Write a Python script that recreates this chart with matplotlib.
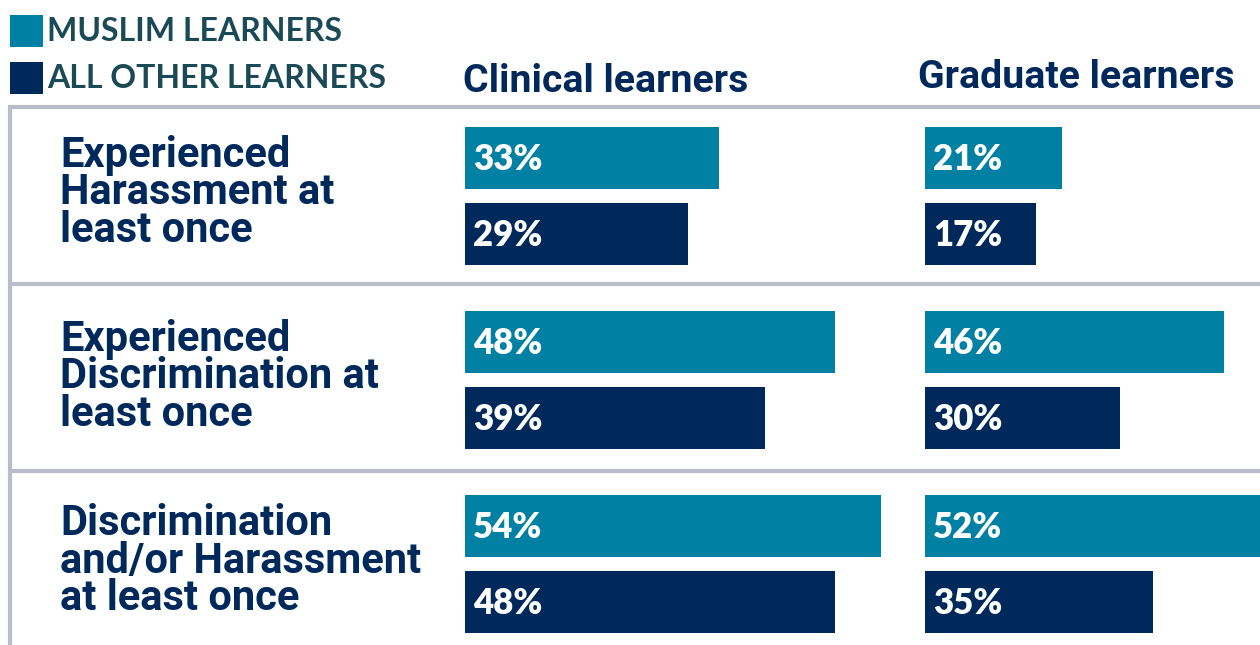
import matplotlib.pyplot as plt
from matplotlib.patches import Rectangle

# data
categories = [
    "Experienced\nHarassment at\nleast once",
    "Experienced\nDiscrimination at\nleast once",
    "Discrimination\nand/or Harassment\nat least once",
]
legend_labels = ["MUSLIM LEARNERS", "ALL OTHER LEARNERS"]
panel_titles = ["Clinical learners", "Graduate learners"]
clinical_muslim = [33, 48, 54]
clinical_other = [29, 39, 48]
graduate_muslim = [21, 46, 52]
graduate_other = [17, 30, 35]

TEAL = "#0081a4"
NAVY = "#00295b"
GRAY = "#b9bdc9"
LEGEND_TXT = "#1b4a57"

HEAD = ["Roboto", "DejaVu Sans"]
GEO = ["Lato", "DejaVu Sans"]

W, H = 1260, 645
fig = plt.figure(figsize=(W / 100, H / 100), dpi=100)

# layout axes in pixel units
base = fig.add_axes([0, 0, 1, 1])
base.set_xlim(0, W)
base.set_ylim(H, 0)
base.axis("off")

row_center = [196 + 184 * i for i in range(len(categories))]
bar_off = 38
bar_h = 62

# legend
for i, (lab, col) in enumerate(zip(legend_labels, [TEAL, NAVY])):
    y0 = 15 + 47 * i
    base.add_patch(Rectangle((10, y0), 33, 32, color=col, lw=0))
    base.text(47, y0 + 26, lab, color=LEGEND_TXT, fontsize=23,
              fontweight="bold", family=GEO, va="baseline", ha="left")

# grid lines
base.plot([8, W], [107, 107], color=GRAY, lw=3, solid_capstyle="butt")
for y in [284, 471]:
    base.plot([10, W], [y, y], color=GRAY, lw=3, solid_capstyle="butt")
base.plot([10, 10], [107, H], color=GRAY, lw=3, solid_capstyle="butt")

# row labels
for lab, yc in zip(categories, row_center):
    base.text(60, yc - 3, lab, color=NAVY, fontsize=30, fontweight="bold",
              family=HEAD, va="center", ha="left", linespacing=0.88)


def panel(x0, x1, px_per_pt, title, title_x, title_y, muslim, other):
    ax = fig.add_axes([x0 / W, 0, (x1 - x0) / W, 1])
    ax.set_xlim(0, (x1 - x0) / px_per_pt)
    ax.set_ylim(H, 0)
    ax.axis("off")
    ax.patch.set_alpha(0)
    base.text(title_x, title_y, title, color=NAVY, fontsize=28.3,
              fontweight="bold", family=HEAD, va="baseline", ha="left")
    ym = [c - bar_off for c in row_center]
    yo = [c + bar_off for c in row_center]
    ax.barh(ym, muslim, height=bar_h, color=TEAL, lw=0)
    ax.barh(yo, other, height=bar_h, color=NAVY, lw=0)
    for ys, vals in [(ym, muslim), (yo, other)]:
        for y, v in zip(ys, vals):
            ax.annotate(f"{v}%", (0, y), xytext=(6, -1),
                        textcoords="offset points", color="white",
                        fontsize=25, fontweight="heavy", family=GEO,
                        va="center", ha="left")


panel(465, 925, 7.7, panel_titles[0], 463, 92, clinical_muslim, clinical_other)
panel(925, W, 6.5, panel_titles[1], 918, 88, graduate_muslim, graduate_other)

fig.savefig("out.png", dpi=100)
